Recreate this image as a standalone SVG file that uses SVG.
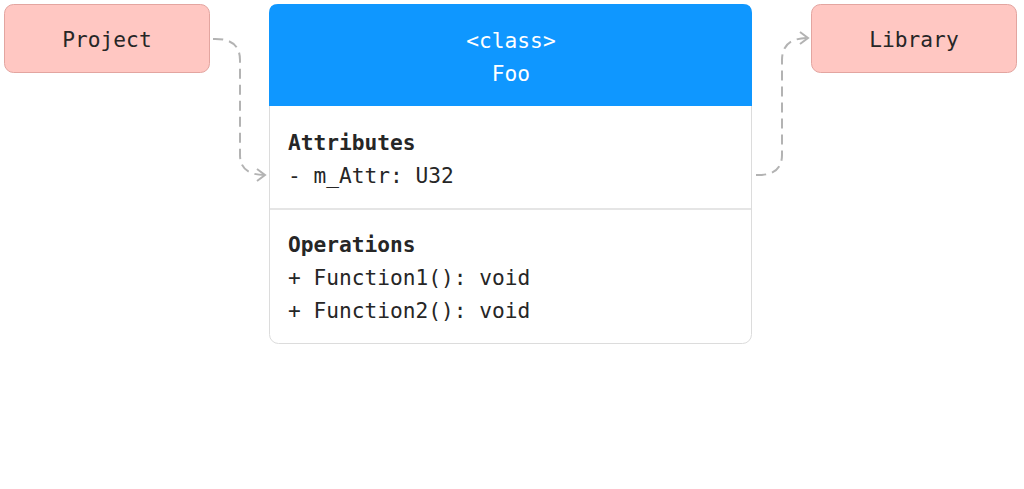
<svg xmlns="http://www.w3.org/2000/svg" width="1024" height="489" viewBox="0 0 1024 489">
<defs>
<style>
.node{fill:#ffc7c2;stroke:#e3a5a0;stroke-width:1}
.mono{font-family:"DejaVu Sans Mono","Liberation Mono",monospace;font-size:21.2px;fill:#262626}
.b{font-weight:bold}
.w{fill:#ffffff}
.conn{fill:none;stroke:#b3b3b3;stroke-width:2;stroke-dasharray:10 6}
</style>
<marker id="arr" viewBox="0 0 14 14" refX="12" refY="7" markerWidth="14" markerHeight="14" markerUnits="userSpaceOnUse" orient="auto">
<path d="M4,1 L12,7 L4,13" fill="none" stroke="#b3b3b3" stroke-width="2"/>
</marker>
</defs>
<rect width="1024" height="489" fill="#ffffff"/>
<g id="connectors">
<path class="conn" d="M213,39 Q240,38 240,60 L240,155 Q240,175 265,175" marker-end="url(#arr)"/>
<path class="conn" d="M756,175 Q782,176 782,155 L782,60 Q782,38 808,38" marker-end="url(#arr)"/>
</g>
<g id="project">
<rect class="node" x="4.5" y="4.5" width="205" height="68" rx="9"/>
<text class="mono" x="107" y="47" text-anchor="middle">Project</text>
</g>
<g id="library">
<rect class="node" x="811.5" y="4.5" width="205" height="68" rx="9"/>
<text class="mono" x="914" y="47" text-anchor="middle">Library</text>
</g>
<g id="foo">
<rect x="269.5" y="4.5" width="482" height="339" rx="9" fill="#ffffff" stroke="#dcdcdc"/>
<path d="M269,106 L269,13 Q269,4 278,4 L743,4 Q752,4 752,13 L752,106 Z" fill="#0f97ff"/>
<line x1="270" y1="209" x2="751" y2="209" stroke="#dcdcdc" stroke-width="1.5"/>
<text class="mono w" x="511" y="48" text-anchor="middle">&lt;class&gt;</text>
<text class="mono w" x="511" y="81" text-anchor="middle">Foo</text>
<text class="mono b" x="288" y="150">Attributes</text>
<text class="mono" x="288" y="183">- m_Attr: U32</text>
<text class="mono b" x="288" y="252">Operations</text>
<text class="mono" x="288" y="285">+ Function1(): void</text>
<text class="mono" x="288" y="318">+ Function2(): void</text>
</g>
</svg>
